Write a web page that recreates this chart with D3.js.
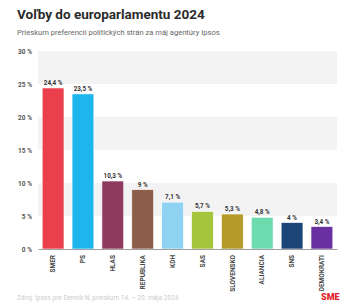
<!DOCTYPE html>
<html>
<head>
<meta charset="utf-8">
<script src="https://cdn.jsdelivr.net/npm/d3@7"></script>
<style>
	body { margin: 0; background: #fff; }
	svg { display: block; font-family: Roboto, "Noto Sans", sans-serif; }
</style>
</head>
<body>
<div id="chart"></div>
<script>
var parties = ["SMER", "PS", "HLAS", "REPUBLIKA", "KDH", "SAS", "SLOVENSKO", "ALIANCIA", "SNS", "DEMOKRATI"];
var values = [24.4, 23.5, 10.3, 9, 7.1, 5.7, 5.3, 4.8, 4, 3.4];
var colors = ["#ea3f4c", "#1db5ee", "#8f3b5f", "#8d5f4a", "#8fd2f2", "#a5c53c", "#b49a28", "#6cdcae", "#1d4678", "#6a2fa0"];
var yTicks = [0, 5, 10, 15, 20, 25, 30];

var W = 348, H = 303;
var margin = {top: 51, right: 11, bottom: 54, left: 38},
	width = W - margin.left - margin.right,
	height = H - margin.top - margin.bottom;

var svg = d3.select("#chart").append("svg")
	.attr("width", W)
	.attr("height", H);

svg.append("text")
	.attr("x", 17).attr("y", 19)
	.attr("font-size", 13.5).attr("font-weight", 700).attr("fill", "#2b2b2b")
	.text("Voľby do europarlamentu 2024");

svg.append("text")
	.attr("x", 17).attr("y", 35)
	.attr("font-size", 7.6).attr("fill", "#666")
	.text("Prieskum preferencií politických strán za máj agentúry Ipsos");

var x = d3.scaleBand().domain(parties).range([0, width]).paddingInner(0.27).paddingOuter(0.14);
var y = d3.scaleLinear().domain([0, 30]).range([height, 0]);

var g = svg.append("g")
	.attr("transform", "translate(" + margin.left + "," + margin.top + ")");

// alternating bands
for (var i = 0; i < yTicks.length - 1; i++) {
	if ((yTicks.length - 2 - i) % 2 === 0) {
		g.append("rect")
			.attr("x", 0).attr("width", width)
			.attr("y", y(yTicks[i + 1]))
			.attr("height", y(yTicks[i]) - y(yTicks[i + 1]))
			.attr("fill", "#f3f3f3");
	}
}

var yAxis = g.append("g")
	.call(d3.axisLeft(y).tickValues(yTicks).tickSize(0).tickPadding(6).tickFormat(function(d) { return d + " %"; }));
yAxis.select(".domain").remove();
yAxis.selectAll("text")
	.attr("font-family", "Roboto, sans-serif")
	.attr("font-size", 6.5).attr("font-weight", 700).attr("fill", "#555");

g.selectAll(".bar")
	.data(values)
	.enter().append("rect")
	.attr("class", "bar")
	.attr("x", function(d, i) { return x(parties[i]); })
	.attr("y", function(d) { return y(d); })
	.attr("width", x.bandwidth())
	.attr("height", function(d) { return height - y(d); })
	.attr("fill", function(d, i) { return colors[i]; })
	.attr("stroke", "#fff").attr("stroke-width", 0.6);

g.selectAll(".val")
	.data(values)
	.enter().append("text")
	.attr("class", "val")
	.attr("x", function(d, i) { return x(parties[i]) + x.bandwidth() / 2; })
	.attr("y", function(d) { return y(d) - 3; })
	.attr("text-anchor", "middle")
	.attr("font-size", 6.3).attr("font-weight", 700).attr("fill", "#333")
	.text(function(d) { return String(d).replace(".", ",") + " %"; });

var xAxis = g.append("g")
	.attr("transform", "translate(0," + height + ")")
	.call(d3.axisBottom(x).tickSize(0).tickPadding(0));
xAxis.select(".domain").attr("stroke", "#888").attr("stroke-width", 0.8);
xAxis.selectAll("text")
	.attr("font-family", "Roboto, sans-serif")
	.attr("font-size", 6.5).attr("font-weight", 700).attr("fill", "#444")
	.attr("text-anchor", "end")
	.attr("dy", null)
	.attr("transform", "translate(2.3,6) rotate(-90)");

svg.append("text")
	.attr("x", 17).attr("y", 300)
	.attr("font-size", 6.5).attr("fill", "#ccc")
	.text("Zdroj: Ipsos pre Denník N, prieskum 14. – 20. mája 2024");

svg.append("text")
	.attr("x", 321).attr("y", 300)
	.attr("font-size", 9).attr("font-weight", 900).attr("fill", "#e3242b")
	.text("SME");
</script>
</body>
</html>
